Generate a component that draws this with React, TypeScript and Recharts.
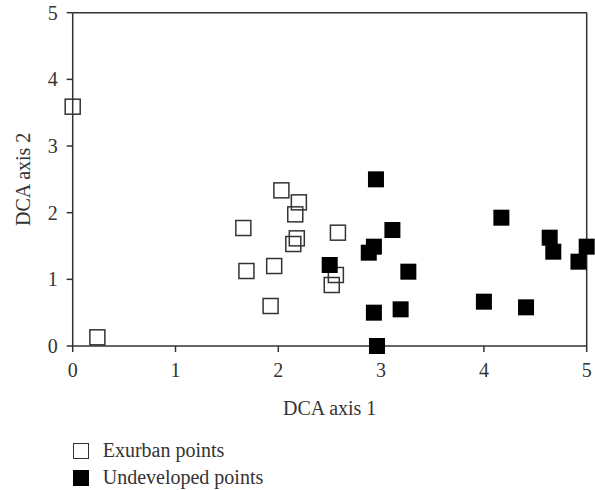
import React from 'react';
import { ScatterChart, Scatter, XAxis, YAxis, ReferenceLine } from 'recharts';

const axisTicks = [0, 1, 2, 3, 4, 5];

const exurbanX = [0, 0.24, 1.66, 1.69, 2.03, 2.2, 2.165, 2.18, 2.146, 1.96, 1.925, 2.58, 2.56, 2.52];
const exurbanY = [3.59, 0.13, 1.77, 1.125, 2.335, 2.155, 1.975, 1.615, 1.53, 1.2, 0.6, 1.7, 1.065, 0.915];

const undevelopedX = [2.95, 3.11, 4.17, 2.93, 2.88, 3.265, 4.64, 4.675, 5.0, 4.92, 4.0, 4.41, 2.93, 3.19, 2.96, 2.5];
const undevelopedY = [2.5, 1.74, 1.925, 1.49, 1.4, 1.115, 1.625, 1.415, 1.49, 1.265, 0.665, 0.58, 0.5, 0.55, 0, 1.215];

const seriesNames = ['Exurban points', 'Undeveloped points'];

const exurban = exurbanX.map((x, i) => ({ x, y: exurbanY[i] }));
const undeveloped = undevelopedX.map((x, i) => ({ x, y: undevelopedY[i] }));

const ink = '#333';
const font = '"Liberation Serif", "Times New Roman", serif';

const OpenSquare = (props: any) => (
  <rect x={props.cx - 7.5} y={props.cy - 7.5} width={15} height={15} fill="none" stroke={ink} strokeWidth={1.5} />
);

const FilledSquare = (props: any) => (
  <rect x={props.cx - 8} y={props.cy - 8} width={16} height={16} fill="#000" />
);

const YTitle = () => (
  <text transform="translate(30,179.3) rotate(-90)" textAnchor="middle" fontFamily={font} fontSize={20} fill={ink}>
    DCA axis 2
  </text>
);

export default function App() {
  const tickStyle = { fontFamily: font, fontSize: 20, fill: ink };
  return (
    <div style={{ position: 'absolute', left: 0, top: 0, width: 595, height: 490, background: '#fff' }}>
      <ScatterChart width={595} height={490} margin={{ top: 12.7, right: 8.3, left: 12.7, bottom: 114 }}>
        <XAxis
          type="number"
          dataKey="x"
          domain={[0, 5]}
          ticks={axisTicks}
          tickSize={6}
          tickMargin={11}
          height={30}
          stroke={ink}
          strokeWidth={1.5}
          tick={tickStyle}
          label={{ value: 'DCA axis 1', position: 'bottom', offset: 24.5, style: { fontFamily: font, fontSize: 20, fill: ink } }}
        />
        <YAxis
          type="number"
          dataKey="y"
          domain={[0, 5]}
          ticks={axisTicks}
          tickSize={6}
          tickMargin={9}
          width={60}
          stroke={ink}
          strokeWidth={1.5}
          tick={tickStyle}
          label={<YTitle />}
        />
        <ReferenceLine y={5} stroke={ink} strokeWidth={1.5} />
        <ReferenceLine x={5} stroke={ink} strokeWidth={1.5} />
        <Scatter name={seriesNames[0]} data={exurban} shape={OpenSquare} isAnimationActive={false} />
        <Scatter name={seriesNames[1]} data={undeveloped} shape={FilledSquare} isAnimationActive={false} />
      </ScatterChart>
      {seriesNames.map((name, i) => (
        <div key={name} style={{ position: 'absolute', left: 72.7, top: 437 + i * 27, height: 27, lineHeight: '27px', fontFamily: font, fontSize: 20, color: ink, whiteSpace: 'nowrap' }}>
          <span
            style={{
              position: 'absolute',
              left: 0,
              top: 5.7,
              width: 16,
              height: 16,
              boxSizing: 'border-box',
              background: i === 0 ? '#fff' : '#000',
              border: i === 0 ? `1.5px solid ${ink}` : 'none',
            }}
          />
          <span style={{ position: 'absolute', left: 30 }}>{name}</span>
        </div>
      ))}
    </div>
  );
}
